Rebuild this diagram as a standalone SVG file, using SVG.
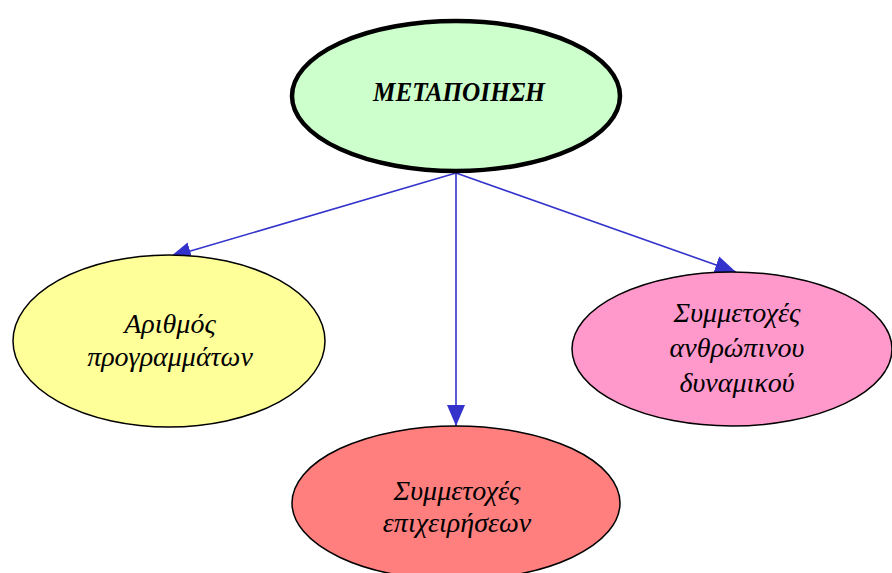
<svg xmlns="http://www.w3.org/2000/svg" width="892" height="573" viewBox="0 0 892 573">
<style>
.t{font-family:"Liberation Serif","DejaVu Serif",serif;font-style:italic;font-size:28px;fill:#000;text-anchor:middle}
.e{stroke:#000;stroke-width:1.5}
.c{stroke:#3333CC;stroke-width:1.6;fill:none}
</style>
<defs>
<marker id="ah" markerUnits="userSpaceOnUse" markerWidth="24" markerHeight="20" refX="21" refY="10" orient="auto">
<path d="M0,1 L21,10 L0,19 Z" fill="#3333CC"/>
</marker>
</defs>
<rect width="892" height="573" fill="#fff"/>
<g id="connectors">
<line class="c" x1="456" y1="173" x2="170" y2="257" marker-end="url(#ah)"/>
<line class="c" x1="456" y1="173" x2="456" y2="426" marker-end="url(#ah)"/>
<line class="c" x1="456" y1="173" x2="736" y2="272" marker-end="url(#ah)"/>
</g>
<g id="n-metapoiisi">
<ellipse cx="456" cy="96" rx="164" ry="75" fill="#CCFFCC" stroke="#000" stroke-width="4.5"/>
<text class="t" x="459" y="101" font-weight="bold" font-size="22" textLength="172" lengthAdjust="spacingAndGlyphs">ΜΕΤΑΠΟΙΗΣΗ</text>
</g>
<g id="n-arithmos">
<ellipse class="e" cx="169" cy="341" rx="156" ry="86" fill="#FFFF99"/>
<text class="t" x="170" y="333">Αριθμός</text>
<text class="t" x="170" y="366">προγραμμάτων</text>
</g>
<g id="n-anthropinou">
<ellipse class="e" cx="732" cy="349" rx="160" ry="77" fill="#FF99CC"/>
<text class="t" x="737" y="322">Συμμετοχές</text>
<text class="t" x="737" y="357">ανθρώπινου</text>
<text class="t" x="737" y="392">δυναμικού</text>
</g>
<g id="n-epixeiriseon">
<ellipse class="e" cx="456" cy="503" rx="164" ry="77" fill="#FF7F7F"/>
<text class="t" x="457" y="500">Συμμετοχές</text>
<text class="t" x="457" y="532">επιχειρήσεων</text>
</g>
</svg>
